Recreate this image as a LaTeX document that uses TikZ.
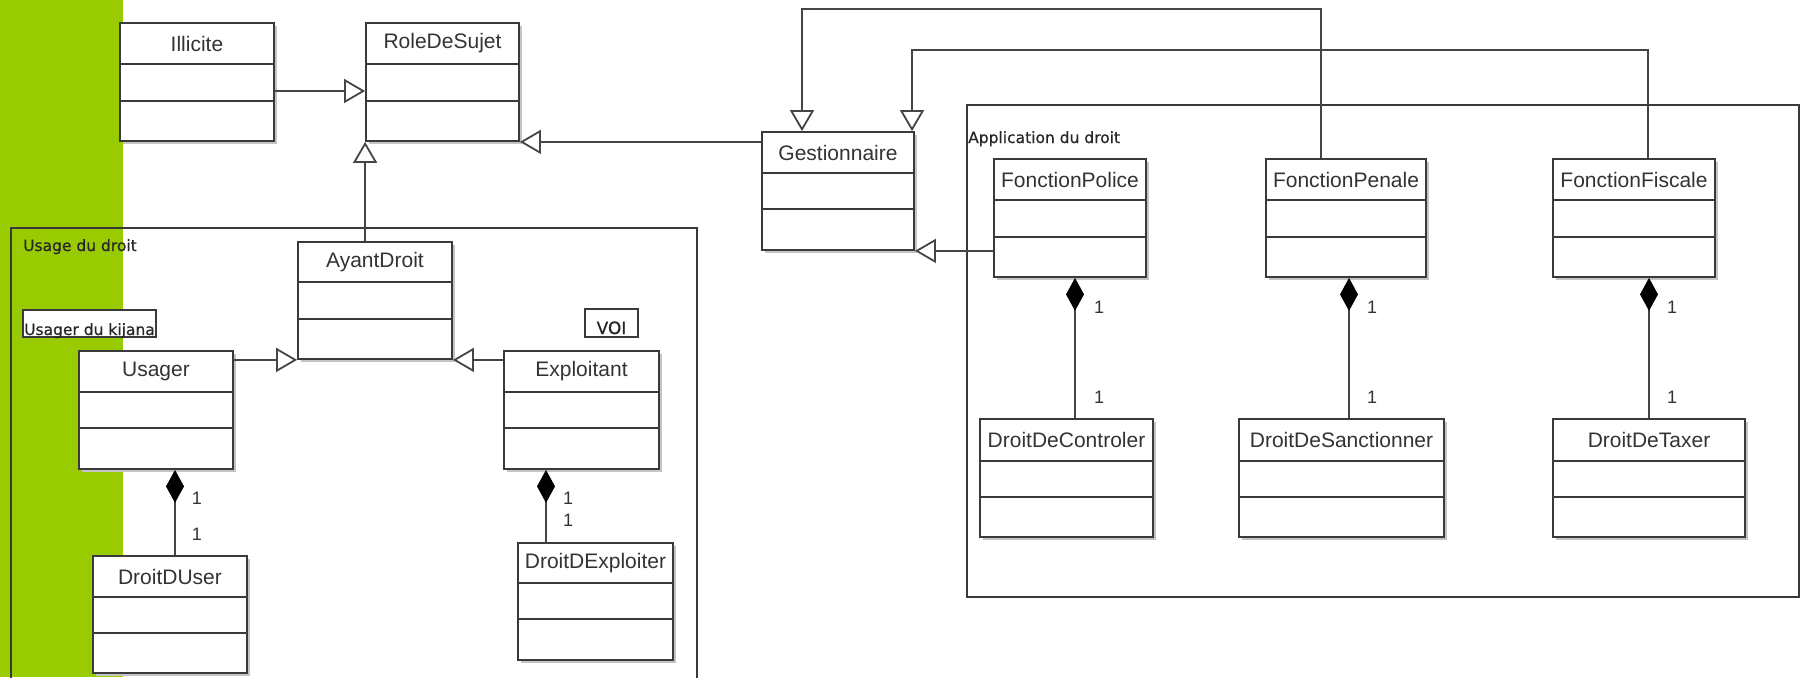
\documentclass[tikz,border=0pt]{standalone}
\usepackage{fontspec}
\usetikzlibrary{arrows.meta}
\newfontfamily\lsans{Liberation Sans}
\newfontfamily\dsans[FakeBold=0.6]{DejaVu Sans}
\definecolor{leaf}{HTML}{99CC00}
\definecolor{boxc}{HTML}{3A3A3A}
\definecolor{linec}{HTML}{454545}
\definecolor{txtc}{HTML}{333333}
\definecolor{shadowc}{HTML}{C4C4C4}
\tikzset{
  classbox/.style={draw=boxc, line width=1.8pt, fill=white, inner sep=0pt, rectangle},
  sepline/.style={draw=boxc, line width=1.8pt},
  titletext/.style={font=\lsans\fontsize{21}{24}\selectfont, text=txtc, inner sep=0pt},
  frametext/.style={font=\dsans\fontsize{15.5}{18}\selectfont, text=black!85, inner sep=0pt},
  multtext/.style={font=\lsans\fontsize{18}{20}\selectfont, text=txtc, inner sep=0pt},
  framebox/.style={draw=boxc, line width=1.6pt},
  gen/.style={draw=linec, line width=1.8pt, -{Triangle[open,length=21pt,width=24pt,fill=white]}},
  comp/.style={draw=linec, line width=1.8pt, {Diamond[length=33pt,width=18pt,black]}-},
}
\newcommand\umlclass[8]{%
  \fill[shadowc] ({#2+3},{#3+3}) rectangle ({#4+3},{#5+3});
  \node[classbox, minimum width={#4-#2}, minimum height={#5-#3}] (#1) at ({(#2+#4)/2},{(#3+#5)/2}) {};
  \draw[sepline] (#2,#6) -- (#4,#6) (#2,#7) -- (#4,#7);
  \node[titletext] (#1-t) at ({(#2+#4)/2},{(#3+#6)/2}) {#8};
}
\begin{document}
\begin{tikzpicture}[x=1pt,y=-1pt]
\useasboundingbox (0,0) rectangle (1806,677);
\fill[white] (0,0) rectangle (1806,677);
\fill[leaf] (0,0) rectangle (123,677);

% frames
\draw[framebox] (11,680) -- (11,228) -- (697,228) -- (697,680);
\node[frametext, anchor=base west] (usagelbl) at (23,251) {Usage du droit};
\draw[framebox] (967,105) rectangle (1799,597);
\node[frametext, anchor=base west] (applbl) at (968,143) {Application du droit};

% small labelled boxes
\node[draw=boxc, line width=1.4pt, fill=white, minimum width=133pt, minimum height=27pt, inner sep=0pt] (kijana) at (89.5,323.5) {};
\node[frametext, anchor=base west] (kijanat) at (24,335) {Usager du kijana};
\node[draw=boxc, line width=1.4pt, fill=white, minimum width=53pt, minimum height=28pt, inner sep=0pt] (voi) at (611.5,323) {};
\node[frametext, font=\dsans\fontsize{17}{19}\selectfont, anchor=base] (voit) at (611.5,334) {VOI};

% classes
\umlclass{Illicite}{120}{23}{274}{141}{64}{101}{Illicite}
\umlclass{RoleDeSujet}{366}{23}{519}{141}{64}{101}{RoleDeSujet}
\umlclass{AyantDroit}{298}{242}{452}{359}{282}{319}{AyantDroit}
\umlclass{Usager}{79}{351}{233}{469}{392}{428}{Usager}
\umlclass{Exploitant}{504}{351}{659}{469}{392}{428}{Exploitant}
\umlclass{DroitDUser}{93}{556}{247}{673}{597}{633}{DroitDUser}
\umlclass{DroitDExploiter}{518}{543}{673}{660}{583}{619}{DroitDExploiter}
\umlclass{Gestionnaire}{762}{132}{914}{250}{173}{209}{Gestionnaire}
\umlclass{FonctionPolice}{994}{159}{1146}{277}{200}{237}{FonctionPolice}
\umlclass{FonctionPenale}{1266}{159}{1426}{277}{200}{237}{FonctionPenale}
\umlclass{FonctionFiscale}{1553}{159}{1715}{277}{200}{237}{FonctionFiscale}
\umlclass{DroitDeControler}{980}{419}{1153}{537}{461}{497}{DroitDeControler}
\umlclass{DroitDeSanctionner}{1239}{419}{1444}{537}{461}{497}{DroitDeSanctionner}
\umlclass{DroitDeTaxer}{1553}{419}{1745}{537}{461}{497}{DroitDeTaxer}

% generalisations
\draw[gen] (Illicite.east |- 0,91) -- (RoleDeSujet.west |- 0,91);
\draw[gen] (AyantDroit.north -| RoleDeSujet.south west) -- (RoleDeSujet.south west);
\draw[gen] (Gestionnaire.west |- RoleDeSujet.south east) -- (RoleDeSujet.south east);
\draw[gen] (Usager.east |- AyantDroit.south) -- (AyantDroit.south west);
\draw[gen] (Exploitant.west |- AyantDroit.south) -- (AyantDroit.south east);
\draw[gen] (FonctionPolice.west |- Gestionnaire.south) -- (Gestionnaire.south east);
\draw[gen] (FonctionPenale.north -| 1321,0) -- (1321,9) -- (802,9) -- (Gestionnaire.north -| 802,0);
\draw[gen] (FonctionFiscale.north -| 1648,0) -- (1648,50) -- (912,50) -- (Gestionnaire.north -| 912,0);

% compositions
\draw[comp] (Usager.south -| 175,0) -- (DroitDUser.north -| 175,0);
\draw[comp] (Exploitant.south -| 546,0) -- (DroitDExploiter.north -| 546,0);
\draw[comp] (FonctionPolice.south -| 1075,0) -- (DroitDeControler.north -| 1075,0);
\draw[comp] (FonctionPenale.south -| 1349,0) -- (DroitDeSanctionner.north -| 1349,0);
\draw[comp] (FonctionFiscale.south -| 1649,0) -- (DroitDeTaxer.north -| 1649,0);

% multiplicities
\node[multtext] (m1) at (197,498) {1};
\node[multtext] (m2) at (197,534) {1};
\node[multtext] (m3) at (568,498) {1};
\node[multtext] (m4) at (568,520) {1};
\node[multtext] (m5) at (1099,307) {1};
\node[multtext] (m6) at (1099,397) {1};
\node[multtext] (m7) at (1372,307) {1};
\node[multtext] (m8) at (1372,397) {1};
\node[multtext] (m9) at (1672,307) {1};
\node[multtext] (m10) at (1672,397) {1};
\end{tikzpicture}
\end{document}
